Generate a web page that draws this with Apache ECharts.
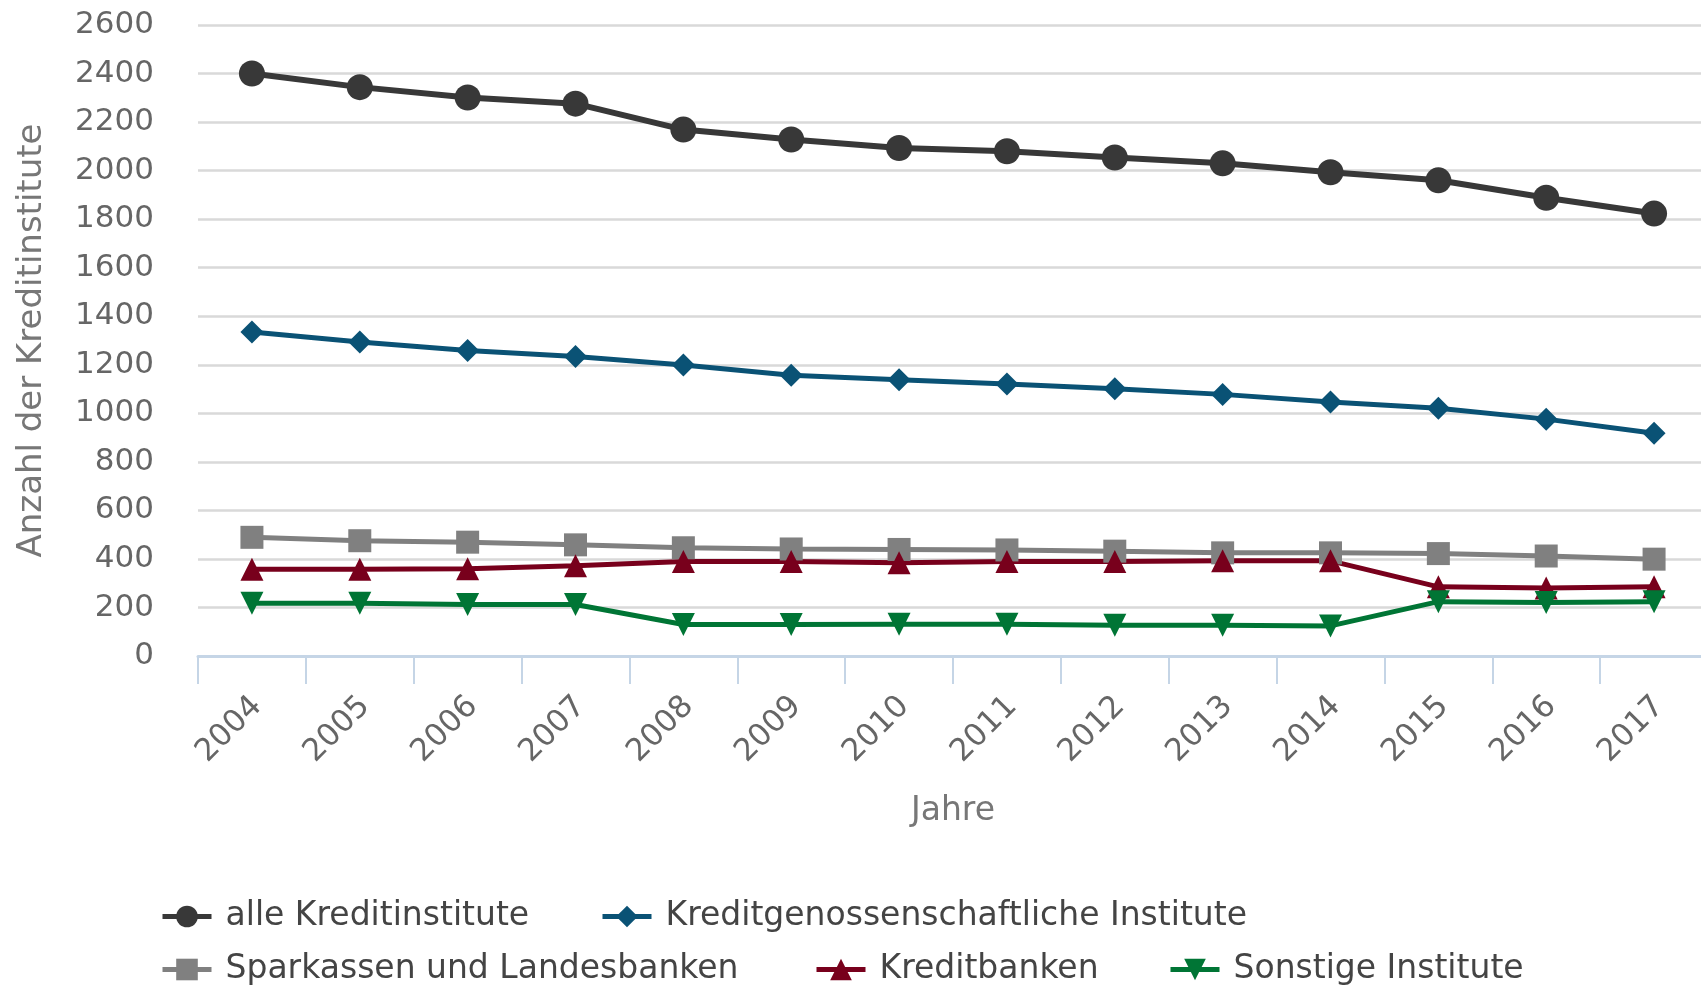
<!DOCTYPE html>
<html><head><meta charset="utf-8">
<script src="https://cdn.jsdelivr.net/npm/echarts@6/dist/echarts.min.js"></script>
<style>html,body{margin:0;padding:0;background:#fff}#c{width:1701px;height:986px}</style>
</head><body><div id="c"></div>
<script>
const years = ['2004','2005','2006','2007','2008','2009','2010','2011','2012','2013','2014','2015','2016','2017'];
const alleKreditinstitute = [2400, 2344, 2301, 2276, 2169, 2128, 2093, 2080, 2054, 2030, 1993, 1960, 1888, 1823];
const kreditgenossenschaften = [1335, 1294, 1259, 1234, 1199, 1157, 1138, 1121, 1101, 1078, 1047, 1021, 976, 918];
const sparkassen = [489, 475, 469, 458, 446, 441, 439, 437, 432, 425, 425, 422, 412, 399];
const kreditbanken = [357, 357, 360, 372, 389, 389, 384, 389, 389, 392, 392, 285, 280, 285];
const sonstige = [217, 217, 212, 212, 130, 130, 131, 131, 127, 127, 124, 224, 220, 224];
const seriesNames = ['alle Kreditinstitute','Kreditgenossenschaftliche Institute','Sparkassen und Landesbanken','Kreditbanken','Sonstige Institute'];

const FONT = 'DejaVu Sans';
const chart = echarts.init(document.getElementById('c'));
function mkLegend(name, left, top) {
  return {
    data: [name], left: left, top: top, itemWidth: 49, itemHeight: 27, padding: 0,
    lineStyle: { width: 5 },
    textStyle: { fontFamily: FONT, fontSize: 33, color: '#444', padding: [0,0,0,9] }
  };
}
function mkSeries(name, data, color, symbol, size, width, rotate) {
  return {
    name: name, type: 'line', data: data, symbol: symbol, symbolSize: size, symbolRotate: rotate || 0,
    lineStyle: { color: color, width: width }, itemStyle: { color: color },
    emphasis: { disabled: true }, animation: false
  };
}
chart.setOption({
  backgroundColor: '#fff',
  animation: false,
  grid: { left: 198, width: 1510, top: 25, bottom: 330, containLabel: false, outerBoundsMode: 'none' },
  legend: [
    mkLegend(seriesNames[0], 160, 900),
    mkLegend(seriesNames[1], 600, 900),
    mkLegend(seriesNames[2], 160, 953),
    mkLegend(seriesNames[3], 814, 953),
    mkLegend(seriesNames[4], 1168, 953)
  ],
  xAxis: {
    type: 'category', data: years, boundaryGap: true,
    name: 'Jahre', nameLocation: 'middle', nameGap: 139,
    nameTextStyle: { fontFamily: FONT, fontSize: 33, color: '#777' },
    axisLine: { lineStyle: { color: '#c5d5e6', width: 3 } },
    axisTick: { show: true, length: 28, lineStyle: { color: '#c5d5e6', width: 2 } },
    axisLabel: { rotate: 45, margin: 29, padding: [0, 8, 0, 0], verticalAlign: 'top', fontFamily: FONT, fontSize: 31, color: '#666' },
    splitLine: { show: false }
  },
  yAxis: {
    type: 'value', min: 0, max: 2600, interval: 200,
    name: 'Anzahl der Kreditinstitute', nameLocation: 'middle', nameGap: 149,
    nameTextStyle: { fontFamily: FONT, fontSize: 34, color: '#777' },
    axisLine: { show: false }, axisTick: { show: false },
    axisLabel: { margin: 44, fontFamily: FONT, fontSize: 31, color: '#666', formatter: function (v) { return String(v); } },
    splitLine: { lineStyle: { color: '#d9d9d9', width: 2.5 } }
  },
  series: [
    mkSeries(seriesNames[0], alleKreditinstitute, '#383838', 'circle', 26, 6),
    mkSeries(seriesNames[1], kreditgenossenschaften, '#0a5275', 'diamond', 23, 5),
    mkSeries(seriesNames[2], sparkassen, '#808080', 'rect', 23, 5),
    mkSeries(seriesNames[3], kreditbanken, '#78001c', 'triangle', 23, 5),
    mkSeries(seriesNames[4], sonstige, '#007535', 'triangle', 23, 5, 180)
  ]
});
</script></body></html>
